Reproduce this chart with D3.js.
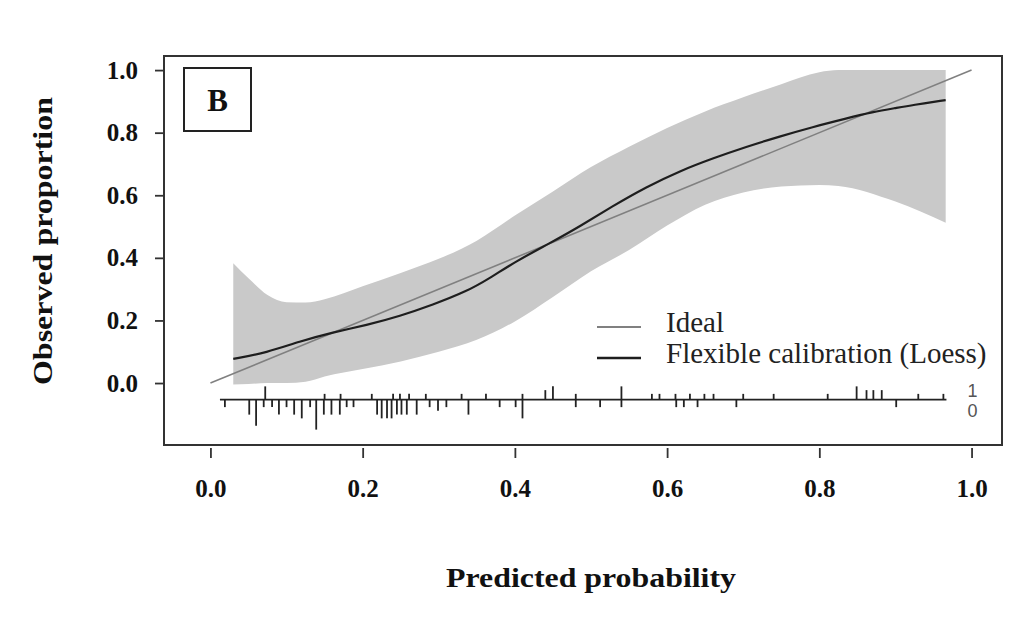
<!DOCTYPE html>
<html>
<head>
<meta charset="utf-8">
<script src="https://cdn.jsdelivr.net/npm/d3@7"></script>
<style>
  body { margin: 0; background: #fff; }
  svg { display: block; }
</style>
</head>
<body>
<svg id="chart" width="1033" height="619"></svg>
<script>
// calibration plot data

// flexible calibration (loess) curve
var loessX = [0.030, 0.074, 0.117, 0.161, 0.205, 0.249, 0.292, 0.336, 0.367, 0.402, 0.446, 0.485,
              0.528, 0.573, 0.616, 0.660, 0.704, 0.748, 0.791, 0.835, 0.870, 0.901, 0.922, 0.966];
var loessY = [0.077, 0.097, 0.133, 0.162, 0.185, 0.214, 0.250, 0.292, 0.335, 0.390, 0.447, 0.500,
              0.565, 0.627, 0.677, 0.718, 0.755, 0.788, 0.818, 0.845, 0.866, 0.879, 0.888, 0.904];

// confidence band around the loess curve
var bandX     = [0.030, 0.050, 0.075, 0.100, 0.125, 0.150, 0.200, 0.250, 0.300, 0.350, 0.400,
                 0.450, 0.500, 0.550, 0.600, 0.650, 0.700, 0.750, 0.800, 0.825, 0.900, 0.966];
var bandUpper = [0.383, 0.335, 0.281, 0.258, 0.257, 0.268, 0.309, 0.352, 0.397, 0.455, 0.535,
                 0.612, 0.690, 0.755, 0.815, 0.868, 0.913, 0.955, 0.993, 1.000, 1.000, 1.000];
var bandLower = [-0.005, -0.003, 0.000, 0.000, 0.004, 0.021, 0.045, 0.069, 0.100, 0.138, 0.197,
                 0.275, 0.357, 0.425, 0.503, 0.570, 0.609, 0.628, 0.633, 0.630, 0.580, 0.512];

// ideal line
var idealX = [0, 1];
var idealY = [0, 1];

// spike histogram of predicted probabilities, outcome = 1 (up) and outcome = 0 (down)
var rugOneX = [0.072, 0.150, 0.171, 0.212, 0.240, 0.249, 0.261, 0.283, 0.330, 0.362, 0.410, 0.440,
               0.450, 0.480, 0.540, 0.580, 0.590, 0.611, 0.630, 0.649, 0.661, 0.700, 0.740, 0.811,
               0.849, 0.862, 0.871, 0.882, 0.930, 0.963];
var rugOneN = [3, 1, 1, 1, 1, 1, 1, 1, 1, 1, 1, 2,
               3, 1, 3, 1, 1, 1, 1, 1, 1, 1, 1, 1,
               3, 2, 2, 2, 1, 1];
var rugZeroX = [0.019, 0.051, 0.060, 0.070, 0.081, 0.090, 0.100, 0.110, 0.120, 0.131, 0.139, 0.149,
                0.159, 0.170, 0.179, 0.188, 0.219, 0.225, 0.232, 0.238, 0.245, 0.251, 0.258, 0.271,
                0.288, 0.299, 0.310, 0.339, 0.380, 0.401, 0.410, 0.480, 0.512, 0.540, 0.612, 0.622,
                0.640, 0.691, 0.901];
var rugZeroN = [2, 4, 7, 2, 2, 4, 2, 4, 5, 2, 8, 4,
                4, 4, 2, 2, 4, 5, 5, 5, 4, 4, 4, 4,
                2, 3, 2, 4, 2, 2, 5, 2, 2, 2, 2, 2,
                2, 2, 2];
var rugRange = [0.0125, 0.967];

var ticks = [0.0, 0.2, 0.4, 0.6, 0.8, 1.0];
var legendLabels = ["Ideal", "Flexible calibration (Loess)"];

var svg = d3.select("#chart");
var serif = "'Liberation Serif', 'Times New Roman', serif";

// plot box in pixels
var box = {left: 164, right: 1002, top: 56, bottom: 445};

var x = d3.scaleLinear()
  .domain([-0.061, 1.04])
  .range([box.left, box.right]);

var y = d3.scaleLinear()
  .domain([-0.198, 1.045])
  .range([box.bottom, box.top]);

// confidence band
var band = bandX.map(function (d, i) { return {x: d, lo: bandLower[i], hi: bandUpper[i]}; });
svg.append("path")
  .datum(band)
  .attr("fill", "#c9c9c9")
  .attr("d", d3.area()
    .x(function (d) { return x(d.x); })
    .y0(function (d) { return y(d.lo); })
    .y1(function (d) { return y(d.hi); })
    .curve(d3.curveMonotoneX));

// ideal line
svg.append("path")
  .datum(idealX.map(function (d, i) { return [d, idealY[i]]; }))
  .attr("fill", "none")
  .attr("stroke", "#808080")
  .attr("stroke-width", 1.6)
  .attr("d", d3.line()
    .x(function (d) { return x(d[0]); })
    .y(function (d) { return y(d[1]); }));

// loess curve
svg.append("path")
  .datum(loessX.map(function (d, i) { return [d, loessY[i]]; }))
  .attr("fill", "none")
  .attr("stroke", "#1e1e1e")
  .attr("stroke-width", 2.2)
  .attr("d", d3.line()
    .x(function (d) { return x(d[0]); })
    .y(function (d) { return y(d[1]); })
    .curve(d3.curveBasis));

// spike histogram
var rugBase = -0.053;
var spike = d3.scaleLinear().domain([0, 8]).range([0, 30]);

svg.append("line")
  .attr("x1", x(rugRange[0])).attr("x2", x(rugRange[1]))
  .attr("y1", y(rugBase)).attr("y2", y(rugBase))
  .attr("stroke", "#222").attr("stroke-width", 1.8);

svg.selectAll(".spike1")
  .data(rugOneX)
  .enter()
  .append("line")
    .attr("class", "spike1")
    .attr("x1", function (d) { return x(d); })
    .attr("x2", function (d) { return x(d); })
    .attr("y1", y(rugBase))
    .attr("y2", function (d, i) { return y(rugBase) - spike(rugOneN[i]) - 2; })
    .attr("stroke", "#222").attr("stroke-width", 1.8);

svg.selectAll(".spike0")
  .data(rugZeroX)
  .enter()
  .append("line")
    .attr("class", "spike0")
    .attr("x1", function (d) { return x(d); })
    .attr("x2", function (d) { return x(d); })
    .attr("y1", y(rugBase))
    .attr("y2", function (d, i) { return y(rugBase) + spike(rugZeroN[i]); })
    .attr("stroke", "#222").attr("stroke-width", 1.8);

// 1 / 0 labels at the end of the spikes
svg.append("text")
  .attr("x", x(1.0) + 1).attr("y", y(rugBase) - 3)
  .attr("text-anchor", "middle")
  .style("font-family", "'Liberation Sans', Arial, sans-serif")
  .style("font-size", "18px").style("fill", "#555")
  .text("1");
svg.append("text")
  .attr("x", x(1.0) + 1).attr("y", y(rugBase) + 17)
  .attr("text-anchor", "middle")
  .style("font-family", "'Liberation Sans', Arial, sans-serif")
  .style("font-size", "18px").style("fill", "#555")
  .text("0");

// frame
svg.append("rect")
  .attr("x", box.left).attr("y", box.top)
  .attr("width", box.right - box.left).attr("height", box.bottom - box.top)
  .attr("fill", "none").attr("stroke", "#333").attr("stroke-width", 2);

// y axis
var yAxis = svg.append("g")
  .attr("transform", "translate(" + box.left + ",0)")
  .call(d3.axisLeft(y).tickValues(ticks).tickFormat(d3.format(".1f")).tickSize(9).tickPadding(17));
yAxis.select(".domain").remove();

// x axis, drawn a little below the frame
var xAxis = svg.append("g")
  .attr("transform", "translate(0," + (box.bottom + 3) + ")")
  .call(d3.axisBottom(x).tickValues(ticks).tickFormat(d3.format(".1f")).tickSize(10).tickPadding(21));
xAxis.select(".domain").remove();

svg.selectAll(".tick line").attr("stroke", "#333").attr("stroke-width", 1.8);
svg.selectAll(".tick text")
  .style("font-family", serif)
  .style("font-weight", "bold")
  .style("font-size", "25px")
  .style("fill", "#111");

// axis titles
svg.append("text")
  .attr("x", 591).attr("y", 587)
  .attr("text-anchor", "middle")
  .attr("textLength", 290).attr("lengthAdjust", "spacingAndGlyphs")
  .style("font-family", serif).style("font-weight", "bold")
  .style("font-size", "28px").style("fill", "#111")
  .text("Predicted probability");

svg.append("text")
  .attr("transform", "translate(52,241)rotate(-90)")
  .attr("text-anchor", "middle")
  .attr("textLength", 288).attr("lengthAdjust", "spacingAndGlyphs")
  .style("font-family", serif).style("font-weight", "bold")
  .style("font-size", "28px").style("fill", "#111")
  .text("Observed proportion");

// panel label
svg.append("rect")
  .attr("x", 184).attr("y", 68).attr("width", 67).attr("height", 63)
  .attr("fill", "#fff").attr("stroke", "#222").attr("stroke-width", 2);
svg.append("text")
  .attr("x", 217.5).attr("y", 111)
  .attr("text-anchor", "middle")
  .style("font-family", serif).style("font-weight", "bold")
  .style("font-size", "31px").style("fill", "#111")
  .text("B");

// legend
var legendColors = ["#808080", "#1e1e1e"];
var legendWidths = [2, 2.4];
var legend = svg.append("g");
legendLabels.forEach(function (lab, i) {
  var ly = 327 + i * 31;
  legend.append("line")
    .attr("x1", 597).attr("x2", 641)
    .attr("y1", ly).attr("y2", ly)
    .attr("stroke", legendColors[i]).attr("stroke-width", legendWidths[i]);
  legend.append("text")
    .attr("x", 666).attr("y", ly + 5)
    .style("font-family", serif)
    .style("font-size", "29px").style("fill", "#222")
    .text(lab);
});
</script>
</body>
</html>
